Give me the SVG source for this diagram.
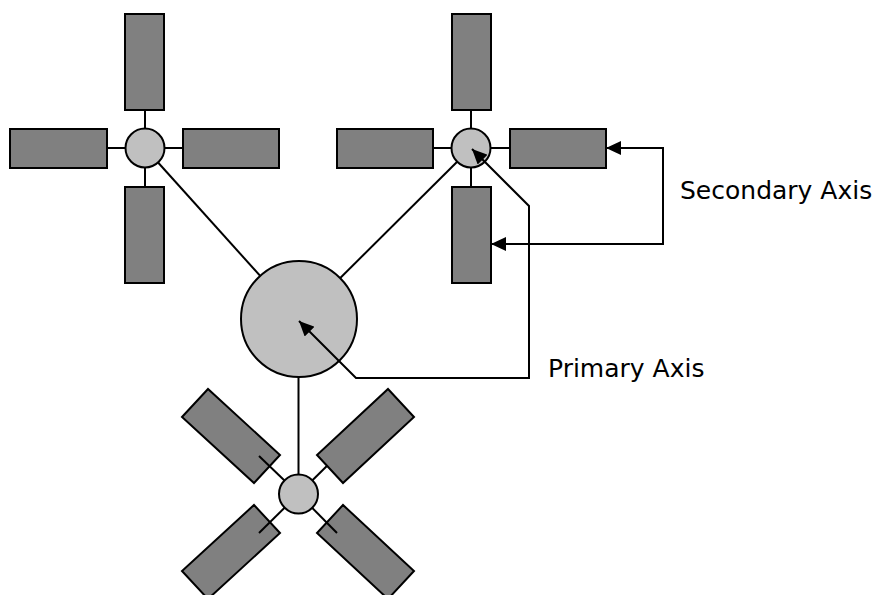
<svg xmlns="http://www.w3.org/2000/svg" width="879" height="595" viewBox="0 0 879 595">
<style>
.blade{fill:#808080;stroke:#000;stroke-width:2}
.hub{fill:#c0c0c0;stroke:#000;stroke-width:2}
.ln{fill:none;stroke:#000;stroke-width:2}
.arr{fill:none;stroke:#000;stroke-width:2;marker-start:url(#ah);marker-end:url(#ah)}
.lbl{font-family:"DejaVu Sans",Verdana,sans-serif;font-size:25px;fill:#000}
</style>
<defs>
<marker id="ah" viewBox="0 0 15 14" markerWidth="15" markerHeight="14" refX="15" refY="7" orient="auto-start-reverse" markerUnits="userSpaceOnUse">
<path d="M0,0 L15,7 L0,14 z" fill="#000"/>
</marker>
</defs>
<rect width="879" height="595" fill="#fff"/>
<g id="connectors">
<line class="ln" x1="145" y1="148" x2="299" y2="319"/>
<line class="ln" x1="471" y1="148" x2="299" y2="319"/>
<line class="ln" x1="298.5" y1="377" x2="298.5" y2="476"/>
<line class="ln" x1="145" y1="110" x2="145" y2="187"/>
<line class="ln" x1="107" y1="148" x2="183" y2="148"/>
<line class="ln" x1="471" y1="110" x2="471" y2="187"/>
<line class="ln" x1="433" y1="148" x2="510" y2="148"/>
<line class="ln" x1="298.5" y1="494" x2="337" y2="456"/>
</g>
<g id="cluster-top-left">
<rect class="blade" x="125" y="14" width="39" height="96"/>
<rect class="blade" x="10" y="129" width="97" height="39"/>
<rect class="blade" x="183" y="129" width="96" height="39"/>
<rect class="blade" x="125" y="187" width="39" height="96"/>
<circle class="hub" cx="145" cy="148" r="19.5"/>
</g>
<g id="cluster-top-right">
<rect class="blade" x="452" y="14" width="39" height="96"/>
<rect class="blade" x="337" y="129" width="96" height="39"/>
<rect class="blade" x="510" y="129" width="96" height="39"/>
<rect class="blade" x="452" y="187" width="39" height="96"/>
<circle class="hub" cx="471" cy="148" r="19.5"/>
</g>
<g id="primary-hub">
<circle class="hub" cx="299" cy="319" r="58"/>
</g>
<g id="cluster-bottom">
<polygon class="blade" points="182,417 208,389 280,455 254,483"/>
<polygon class="blade" points="388,389 414,417 343,483 317,455"/>
<polygon class="blade" points="182,571 208,599 280,533 254,505"/>
<polygon class="blade" points="388,599 414,571 343,505 317,533"/>
<line class="ln" x1="298.5" y1="494" x2="259" y2="456"/>
<line class="ln" x1="298.5" y1="494" x2="259" y2="533"/>
<line class="ln" x1="298.5" y1="494" x2="337" y2="533"/>
<circle class="hub" cx="298.5" cy="494" r="19.5"/>
</g>
<g id="axis-arrows">
<path class="arr" d="M299,321 L356,378 L529,378 L529,206 L472,149"/>
<path class="arr" d="M606,148 L663,148 L663,244 L491,244"/>
</g>
<g id="labels">
<text class="lbl" x="680" y="199">Secondary Axis</text>
<text class="lbl" x="548" y="377">Primary Axis</text>
</g>
</svg>
